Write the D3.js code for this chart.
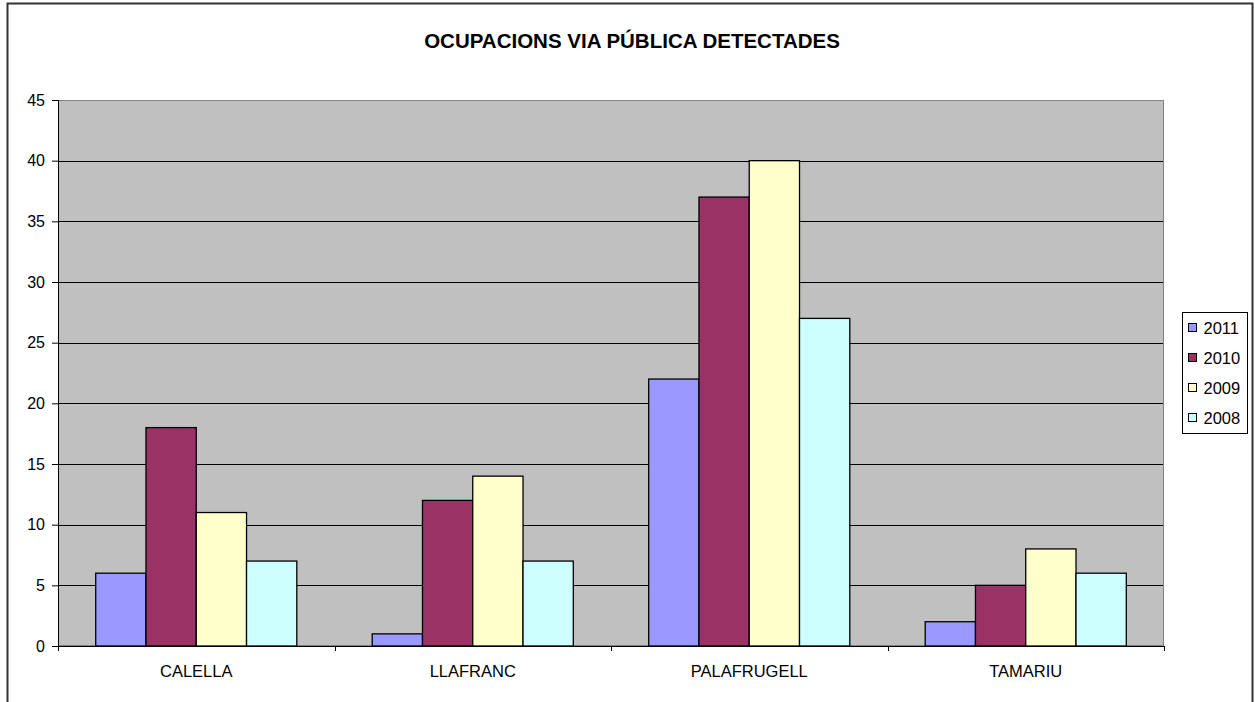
<!DOCTYPE html>
<html>
<head>
<meta charset="utf-8">
<script src="https://d3js.org/d3.v7.min.js"></script>
<style>
  body { margin: 0; background: #fff; }
  text { font-family: Arial, "Liberation Sans", sans-serif; }
</style>
</head>
<body>
<script>
// data
var categories = ["CALELLA", "LLAFRANC", "PALAFRUGELL", "TAMARIU"];
var years = ["2011", "2010", "2009", "2008"];
var colors = ["#9999FF", "#993366", "#FFFFCC", "#CCFFFF"];
var v2011 = [6, 1, 22, 2];
var v2010 = [18, 12, 37, 5];
var v2009 = [11, 14, 40, 8];
var v2008 = [7, 7, 27, 6];
var yTicks = [0, 5, 10, 15, 20, 25, 30, 35, 40, 45];
var title = "OCUPACIONS VIA PÚBLICA DETECTADES";

var series = [v2011, v2010, v2009, v2008];

var w = 1255, h = 702;
var margin = {top: 100, right: 91, bottom: 56, left: 58};
var width = w - margin.left - margin.right,
    height = h - margin.top - margin.bottom;

var svg = d3.select("body").append("svg")
    .attr("width", w)
    .attr("height", h);

// outer chart border
svg.append("rect")
    .attr("x", 7.5).attr("y", 3.5)
    .attr("width", 1245).attr("height", 720)
    .attr("fill", "none")
    .attr("stroke", "#333")
    .attr("stroke-width", 2);

svg.append("text")
    .attr("x", 632).attr("y", 48)
    .attr("text-anchor", "middle")
    .style("font-size", "20.5px")
    .style("font-weight", "bold")
    .text(title);

var g = svg.append("g")
    .attr("transform", "translate(" + margin.left + "," + margin.top + ")");

var x0 = d3.scaleBand()
    .domain(categories)
    .range([0, width])
    .paddingInner(0.2727)
    .paddingOuter(0.1364);

var x1 = d3.scaleBand()
    .domain(years)
    .range([0, x0.bandwidth()]);

var y = d3.scaleLinear()
    .domain([0, 45])
    .range([height, 0]);

// plot background
g.append("rect")
    .attr("width", width).attr("height", height)
    .attr("fill", "#C0C0C0");

// gridlines
g.selectAll(".grid")
  .data(yTicks.filter(function(d) { return d > 0 && d < 45; }))
  .enter().append("line")
    .attr("x1", 0).attr("x2", width)
    .attr("y1", function(d) { return Math.round(y(d)) + 0.5; })
    .attr("y2", function(d) { return Math.round(y(d)) + 0.5; })
    .attr("stroke", "#000");

// plot border
g.append("rect")
    .attr("x", 0.5).attr("y", 0.5)
    .attr("width", width - 1).attr("height", height - 1)
    .attr("fill", "none")
    .attr("stroke", "#808080");

// bars
var groups = g.selectAll(".cat")
  .data(categories)
  .enter().append("g")
    .attr("transform", function(d) { return "translate(" + x0(d) + ",0)"; });

groups.selectAll("rect")
  .data(function(d, i) {
    return years.map(function(yr, j) { return {year: yr, value: series[j][i], color: colors[j]}; });
  })
  .enter().append("rect")
    .attr("x", function(d) { return x1(d.year); })
    .attr("y", function(d) { return y(d.value); })
    .attr("width", x1.bandwidth())
    .attr("height", function(d) { return height - y(d.value); })
    .attr("fill", function(d) { return d.color; })
    .attr("stroke", "#000")
    .attr("stroke-width", 1.3);

// x axis with ticks between categories
var xAxis = g.append("g")
    .attr("transform", "translate(0," + height + ")");
xAxis.append("line")
    .attr("x1", 0).attr("x2", width)
    .attr("y1", 0.5).attr("y2", 0.5)
    .attr("stroke", "#000");
xAxis.selectAll(".tk")
  .data(d3.range(categories.length + 1))
  .enter().append("line")
    .attr("x1", function(i) { return Math.round(i * width / categories.length) + 0.5; })
    .attr("x2", function(i) { return Math.round(i * width / categories.length) + 0.5; })
    .attr("y1", 0).attr("y2", 5)
    .attr("stroke", "#000");
xAxis.selectAll(".lbl")
  .data(categories)
  .enter().append("text")
    .attr("x", function(d) { return x0(d) + x0.bandwidth() / 2; })
    .attr("y", 31)
    .attr("text-anchor", "middle")
    .style("font-size", "16.5px")
    .text(function(d) { return d; });

// y axis
var yAxis = g.append("g")
    .call(d3.axisLeft(y).tickValues(yTicks).tickSize(6).tickPadding(7));
yAxis.select(".domain").attr("stroke", "#000");
yAxis.selectAll("text").style("font-size", "16px").attr("fill", "#000")
    .style("font-family", "Arial, 'Liberation Sans', sans-serif");

// legend
var legend = svg.append("g").attr("transform", "translate(1182.5,312.5)");
legend.append("rect")
    .attr("width", 65).attr("height", 121)
    .attr("fill", "#fff").attr("stroke", "#000");
var items = legend.selectAll(".item")
  .data(years)
  .enter().append("g")
    .attr("transform", function(d, i) { return "translate(0," + (15 + i * 30) + ")"; });
items.append("rect")
    .attr("x", 6).attr("y", -4)
    .attr("width", 8).attr("height", 8)
    .attr("fill", function(d, i) { return colors[i]; })
    .attr("stroke", "#000");
items.append("text")
    .attr("x", 21).attr("y", 6)
    .style("font-size", "16.5px")
    .text(function(d) { return d; });
</script>
</body>
</html>
